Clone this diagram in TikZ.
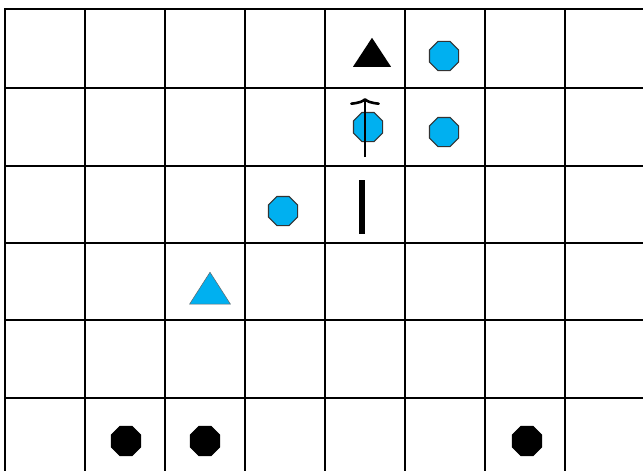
\documentclass[tikz,border=0pt]{standalone}
\usetikzlibrary{shapes.geometric,arrows.meta}
\definecolor{skyc}{HTML}{00B0F0}
\tikzset{
  gridline/.style={line width=2pt, black},
  oct/.style={regular polygon, regular polygon sides=8, minimum size=31.5pt, inner sep=0pt, draw=black!80, line width=1.1pt},
  cyanoct/.style={oct, fill=skyc},
  blackoct/.style={oct, fill=black, draw=black},
  tri/.style={isosceles triangle, isosceles triangle stretches, shape border rotate=90, inner sep=0pt},
  blacktri/.style={tri, fill=black, minimum width=38pt, minimum height=29pt},
  cyantri/.style={tri, fill=skyc, draw=black!60, line width=0.5pt, minimum width=41pt, minimum height=32pt},
  bar/.style={line width=5.5pt, black},
  arr/.style={line width=2.6pt, black, -{Computer Modern Rightarrow[length=7pt, width=30pt, line width=2.6pt]}}
}
\begin{document}
\begin{tikzpicture}[x=1pt,y=-1pt]
\useasboundingbox (0,0) rectangle (643,471);
\fill[white] (0,0) rectangle (643,471);
% grid
\foreach \gx in {5,85,165,245,325,405,485,565} \draw[gridline] (\gx,8) -- (\gx,471);
\foreach \gy in {9,88,166,243,320,398} \draw[gridline] (4,\gy) -- (643,\gy);
% shapes
\node[blacktri] (t1) at (372,56.5) {};
\node[cyantri] (t2) at (210,293) {};
\node[cyanoct] (c1) at (444,56) {};
\node[cyanoct] (c2) at (444,132) {};
\node[cyanoct] (c3) at (368,127) {};
\node[cyanoct] (c4) at (283,211) {};
\node[blackoct] (b1) at (126,441) {};
\node[blackoct] (b2) at (205,441) {};
\node[blackoct] (b3) at (527,441) {};
% arrow
\coordinate (a0) at (365,157);
\coordinate (a1) at (365,98);
\draw[arr] (a0) -- (a1);
% bar
\coordinate (r0) at (362,180);
\coordinate (r1) at (362,234);
\draw[bar] (r0) -- (r1);
\end{tikzpicture}
\end{document}
